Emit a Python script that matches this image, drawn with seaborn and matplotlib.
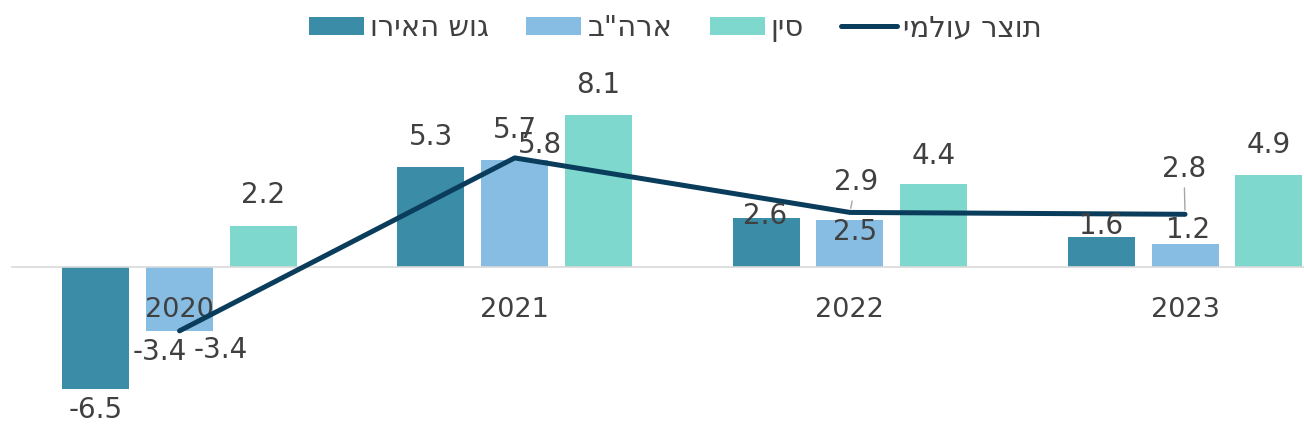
import numpy as np
import pandas as pd
import matplotlib
matplotlib.use("Agg")
import matplotlib.pyplot as plt
from matplotlib.patches import Patch
from matplotlib.lines import Line2D
import seaborn as sns

# data (% growth)
years = ["2020", "2021", "2022", "2023"]
euro = [-6.5, 5.3, 2.6, 1.6]
usa = [-3.4, 5.7, 2.5, 1.2]
china = [2.2, 8.1, 4.4, 4.9]
world = [-3.4, 5.8, 2.9, 2.8]

series_names = ["גוש האירו", 'ארה"ב', "סין"]
world_name = "תוצר עולמי"

colors = ["#3B8CA7", "#87BDE2", "#7ED8CE"]
line_color = "#0A3D5C"
text_color = "#404040"

# label offsets in pixels (dx, dy), like the hand-moved labels of the original
euro_off = [(0, -21), (0, 30), (-1, 2), (0, 11)]
usa_off = [(-20, -21), (0, 30), (5, -12), (3, 14)]
china_off = [(0, 31), (0, 30), (0, 28), (0, 30)]
world_off = [(41, -19), (25, 13), (6, 30), (-1, 45)]
world_leader = [False, False, True, True]


def rtl(s):
    # no bidi in matplotlib: flip the Hebrew so it reads right to left
    return s[::-1]


sns.set_style("white")
plt.rcParams["font.family"] = ["DejaVu Sans"]

df = pd.DataFrame({
    "year": years * 3,
    "series": [n for n in series_names for _ in years],
    "value": euro + usa + china,
})

fig = plt.figure(figsize=(13.04, 4.38), dpi=100)
ax = fig.add_axes([12 / 1304, 0, 1292 / 1304, 1])

sns.barplot(data=df, x="year", y="value", hue="series", hue_order=series_names,
            palette=colors, saturation=1, width=0.75, gap=0.2, linewidth=0,
            errorbar=None, legend=False, ax=ax)

xpos = np.arange(len(years))
sns.lineplot(x=xpos, y=world, color=line_color, linewidth=3.6, ax=ax,
             legend=False, zorder=3)

ax.set_xlim(-0.5, 3.355)
ax.set_ylim(-9.1, 14.2)

# value labels on bars
for cont, vals, offs in zip(ax.containers, [euro, usa, china], [euro_off, usa_off, china_off]):
    for bar, v, (dx, dy) in zip(cont, vals, offs):
        ax.annotate(f"{v:.1f}", xy=(bar.get_x() + bar.get_width() / 2, v),
                    xytext=(dx, dy), textcoords="offset pixels",
                    ha="center", va="center", fontsize=20, color=text_color, zorder=5)

# value labels on the line
for x, v, (dx, dy), lead in zip(xpos, world, world_off, world_leader):
    arrow = dict(arrowstyle="-", color="#A6A6A6", lw=1, shrinkA=1, shrinkB=3) if lead else None
    ax.annotate(f"{v:.1f}", xy=(x, v), xytext=(dx, dy), textcoords="offset pixels",
                ha="center", va="center", fontsize=20, color=text_color, zorder=5,
                arrowprops=arrow)

for s in ["top", "left", "right"]:
    ax.spines[s].set_visible(False)
ax.spines["bottom"].set_position(("data", 0))
ax.spines["bottom"].set_color("#D9D9D9")
ax.spines["bottom"].set_linewidth(1.2)
ax.set_yticks([])
ax.set_axisbelow(False)
ax.xaxis.set_zorder(2.5)
ax.tick_params(axis="x", length=0, pad=21.5, labelsize=19.5, labelcolor=text_color)
ax.set_xlabel("")
ax.set_ylabel("")

handles = [Patch(facecolor=c, edgecolor="none") for c in colors]
handles.append(Line2D([], [], color=line_color, lw=3.6))
labels = [rtl(n) for n in series_names] + [rtl(world_name)]
fig.legend(handles, labels, loc="center", bbox_to_anchor=(675 / 1304, 1 - 28 / 438),
           ncol=4, frameon=False, fontsize=21, handlelength=1.9, handleheight=0.58,
           handletextpad=0.2, columnspacing=1.28, labelcolor=text_color)

fig.savefig("out.png", dpi=100)
